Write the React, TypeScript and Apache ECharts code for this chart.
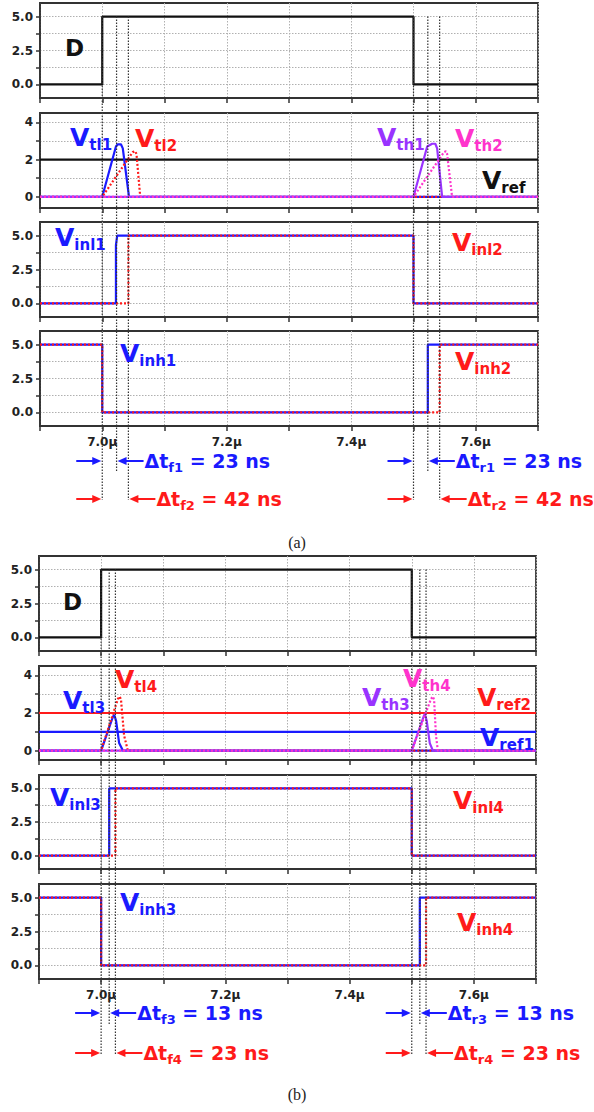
import React, { useEffect, useRef } from 'react';
import * as echarts from 'echarts';

// ---------- colours ----------
const BLUE = '#1a1aff';
const RED = '#ff1a1a';
const PURPLE = '#9933ff';
const PINK = '#ff33cc';
const BLACK = '#111111';

// ---------- axes (time in ns) ----------
const T_MIN = 6900;
const T_MAX = 7700;
const T_STEP = 100;
const T_TICK_LABELS = [7000, 7200, 7400, 7600];
const STEP_Y_TICKS = [0, 1.25, 2.5, 3.75, 5];
const STEP_Y_LABELS = [0, 2.5, 5];
const VT_Y_TICKS = [0, 1, 2, 3, 4];
const VT_Y_LABELS = [0, 2, 4];

// ---------- D (both figures) ----------
const D_T = [6900, 7000, 7000, 7500, 7500, 7700];
const D_V = [0, 0, 5, 5, 0, 0];

// ---------- figure (a) ----------
const VREF_A = 2;
const VTL1_T = [6900, 7000, 7022, 7025, 7030, 7033, 7043, 7700];
const VTL1_V = [0, 0, 2.7, 2.82, 2.82, 2.6, 0, 0];
const VTL2_T = [6900, 7000, 7049, 7053, 7055, 7061, 7700];
const VTL2_V = [0, 0, 2.4, 2.45, 2.3, 0, 0];
const VTH1_T = [6900, 7500, 7522, 7530, 7535, 7538, 7546, 7700];
const VTH1_V = [0, 0, 2.7, 2.85, 2.85, 2.6, 0, 0];
const VTH2_T = [6900, 7500, 7549, 7552, 7554, 7562, 7700];
const VTH2_V = [0, 0, 2.4, 2.45, 2.3, 0, 0];
const VINL1_T = [6900, 7022, 7022, 7024, 7500, 7500, 7700];
const VINL1_V = [0, 0, 4.3, 5, 5, 0, 0];
const VINL2_T = [6900, 7042, 7042, 7500, 7500, 7700];
const VINL2_V = [0, 0, 5, 5, 0, 0];
const VINH1_T = [6900, 7000, 7000, 7523, 7523, 7700];
const VINH1_V = [5, 5, 0, 0, 5, 5];
const VINH2_T = [6900, 7000, 7000, 7542, 7542, 7700];
const VINH2_V = [5, 5, 0, 0, 5, 5];
const DT_NAMES_A = ['f1', 'f2', 'r1', 'r2'];
const DT_VALUES_A = [23, 42, 23, 42];
const DT_START_A = [7000, 7000, 7500, 7500];

// ---------- figure (b) ----------
const VREF2_B = 2;
const VREF1_B = 1;
const VTL3_T = [6900, 7000, 7019, 7021, 7024, 7029, 7035, 7700];
const VTL3_V = [0, 0, 1.8, 1.9, 1.6, 0.4, 0, 0];
const VTL4_T = [6900, 7000, 7027, 7030, 7032, 7037, 7043, 7700];
const VTL4_V = [0, 0, 2.75, 2.88, 2.7, 0.8, 0, 0];
const VTH3_T = [6900, 7500, 7519, 7521, 7524, 7529, 7534, 7700];
const VTH3_V = [0, 0, 1.8, 1.95, 1.6, 0.4, 0, 0];
const VTH4_T = [6900, 7500, 7531, 7534, 7536, 7539, 7542, 7700];
const VTH4_V = [0, 0, 2.75, 2.88, 2.7, 0.8, 0, 0];
const VINL3_T = [6900, 7013, 7013, 7500, 7500, 7700];
const VINL3_V = [0, 0, 5, 5, 0, 0];
const VINL4_T = [6900, 7023, 7023, 7500, 7500, 7700];
const VINL4_V = [0, 0, 5, 5, 0, 0];
const VINH3_T = [6900, 7000, 7000, 7513, 7513, 7700];
const VINH3_V = [5, 5, 0, 0, 5, 5];
const VINH4_T = [6900, 7000, 7000, 7523, 7523, 7700];
const VINH4_V = [5, 5, 0, 0, 5, 5];
const DT_NAMES_B = ['f3', 'f4', 'r3', 'r4'];
const DT_VALUES_B = [13, 23, 13, 23];
const DT_START_B = [7000, 7000, 7500, 7500];

const DT_COLORS = [BLUE, RED, BLUE, RED];
const DT_ROWS = [0, 1, 0, 1];

// ---------- layout ----------
const FIG_A = { left: 40, width: 498, tops: [3, 113, 222, 331], heights: [95, 95, 95, 95], vtMin: -0.6, rowY: [461, 499], caption: '(a)', captionY: 542 };
const FIG_B = { left: 39, width: 497, tops: [556, 666, 775, 884], heights: [95, 94, 94, 95], vtMin: -0.5, rowY: [1013, 1053], caption: '(b)', captionY: 1094 };

const LABELS_A = [
  { m: 'D', s: '', x: 65, y: 48, c: BLACK },
  { m: 'V', s: 'tl1', x: 70, y: 137, c: BLUE },
  { m: 'V', s: 'tl2', x: 135, y: 138, c: RED },
  { m: 'V', s: 'th1', x: 377, y: 137, c: PURPLE },
  { m: 'V', s: 'th2', x: 455, y: 138, c: PINK },
  { m: 'V', s: 'ref', x: 482, y: 180, c: BLACK },
  { m: 'V', s: 'inl1', x: 55, y: 237, c: BLUE },
  { m: 'V', s: 'inl2', x: 452, y: 242, c: RED },
  { m: 'V', s: 'inh1', x: 120, y: 353, c: BLUE },
  { m: 'V', s: 'inh2', x: 455, y: 361, c: RED },
];
const LABELS_B = [
  { m: 'D', s: '', x: 63, y: 602, c: BLACK },
  { m: 'V', s: 'tl3', x: 63, y: 700, c: BLUE },
  { m: 'V', s: 'tl4', x: 115, y: 679, c: RED },
  { m: 'V', s: 'th3', x: 362, y: 697, c: PURPLE },
  { m: 'V', s: 'th4', x: 403, y: 678, c: PINK },
  { m: 'V', s: 'ref2', x: 477, y: 697, c: RED },
  { m: 'V', s: 'ref1', x: 480, y: 737, c: BLUE },
  { m: 'V', s: 'inl3', x: 50, y: 797, c: BLUE },
  { m: 'V', s: 'inl4', x: 453, y: 800, c: RED },
  { m: 'V', s: 'inh3', x: 120, y: 902, c: BLUE },
  { m: 'V', s: 'inh4', x: 457, y: 922, c: RED },
];

const FONT = '"DejaVu Sans"';
const FRAME = '#333333';
const GRIDLINE = { color: '#b0b0b0', type: [1.5, 1.5] as any, width: 1 };

const zip = (t: number[], v: number[]) => t.map((x, i) => [x, v[i]]);

type S = { t: number[]; v: number[]; c: string; dot?: boolean };

const PANELS_A: S[][] = [
  [{ t: D_T, v: D_V, c: BLACK }],
  [
    { t: [T_MIN, T_MAX], v: [VREF_A, VREF_A], c: BLACK },
    { t: VTL1_T, v: VTL1_V, c: BLUE },
    { t: VTL2_T, v: VTL2_V, c: RED, dot: true },
    { t: VTH1_T, v: VTH1_V, c: PURPLE },
    { t: VTH2_T, v: VTH2_V, c: PINK, dot: true },
  ],
  [
    { t: VINL1_T, v: VINL1_V, c: BLUE },
    { t: VINL2_T, v: VINL2_V, c: RED, dot: true },
  ],
  [
    { t: VINH1_T, v: VINH1_V, c: BLUE },
    { t: VINH2_T, v: VINH2_V, c: RED, dot: true },
  ],
];
const PANELS_B: S[][] = [
  [{ t: D_T, v: D_V, c: BLACK }],
  [
    { t: [T_MIN, T_MAX], v: [VREF2_B, VREF2_B], c: RED },
    { t: [T_MIN, T_MAX], v: [VREF1_B, VREF1_B], c: BLUE },
    { t: VTL3_T, v: VTL3_V, c: BLUE },
    { t: VTL4_T, v: VTL4_V, c: RED, dot: true },
    { t: VTH3_T, v: VTH3_V, c: PURPLE },
    { t: VTH4_T, v: VTH4_V, c: PINK, dot: true },
  ],
  [
    { t: VINL3_T, v: VINL3_V, c: BLUE },
    { t: VINL4_T, v: VINL4_V, c: RED, dot: true },
  ],
  [
    { t: VINH3_T, v: VINH3_V, c: BLUE },
    { t: VINH4_T, v: VINH4_V, c: RED, dot: true },
  ],
];

const FIGS = [
  { L: FIG_A, P: PANELS_A, labels: LABELS_A, names: DT_NAMES_A, vals: DT_VALUES_A, starts: DT_START_A },
  { L: FIG_B, P: PANELS_B, labels: LABELS_B, names: DT_NAMES_B, vals: DT_VALUES_B, starts: DT_START_B },
];

function buildOption() {
  const grid: any[] = [];
  const xAxis: any[] = [];
  const yAxis: any[] = [];
  const series: any[] = [];
  FIGS.forEach((f, fi) => {
    for (let p = 0; p < 4; p++) {
      const g = fi * 4 + p;
      grid.push({
        left: f.L.left, top: f.L.tops[p], width: f.L.width, height: f.L.heights[p],
        show: true, borderColor: FRAME, borderWidth: 1.8, backgroundColor: '#fff',
        containLabel: false, outerBoundsMode: 'none',
      });
      xAxis.push({
        type: 'value', gridIndex: g, min: T_MIN, max: T_MAX, interval: T_STEP,
        axisLine: { show: true, onZero: false, lineStyle: { color: FRAME, width: 1.8 } },
        axisTick: { show: true, length: 5, lineStyle: { color: FRAME, width: 1.5 } },
        axisLabel: {
          show: p === 3, margin: 10, color: '#222', fontFamily: FONT, fontWeight: 'bold', fontSize: 12,
          formatter: (v: number) => (T_TICK_LABELS.includes(Math.round(v)) ? (v / 1000).toFixed(1) + 'µ' : ''),
        },
        splitLine: { show: true, lineStyle: GRIDLINE },
      });
      const isVt = p === 1;
      yAxis.push({
        type: 'value', gridIndex: g,
        min: isVt ? f.L.vtMin : -1, max: isVt ? 4.5 : 6,
        axisLine: { show: true, onZero: false, lineStyle: { color: FRAME, width: 1.8 } },
        axisTick: { show: true, length: 4, customValues: isVt ? VT_Y_TICKS : STEP_Y_TICKS, lineStyle: { color: FRAME, width: 1.5 } },
        axisLabel: {
          customValues: isVt ? VT_Y_LABELS : STEP_Y_LABELS, margin: 7, color: '#222', fontFamily: FONT, fontWeight: 'bold', fontSize: 12,
          formatter: (v: number) => (isVt ? String(v) : v.toFixed(1)),
        },
        splitLine: { show: true, lineStyle: GRIDLINE },
      });
      f.P[p].forEach((s, si) => {
        series.push({
          type: 'line', xAxisIndex: g, yAxisIndex: g, data: zip(s.t, s.v),
          symbol: 'none', silent: true, z: 2 + si,
          lineStyle: { color: s.c, width: 2.2, type: s.dot ? [2, 2] : 'solid' },
          emphasis: { disabled: true },
        });
      });
    }
  });
  return { animation: false, grid, xAxis, yAxis, series };
}

let measureCtx: CanvasRenderingContext2D | null = null;
function textW(text: string, font: string) {
  if (!measureCtx) measureCtx = document.createElement('canvas').getContext('2d');
  measureCtx!.font = font;
  return measureCtx!.measureText(text).width;
}

function txt(x: number, y: number, text: string, color: string, size: number, align = 'left', family = FONT, weight = 'bold') {
  const font = `${weight} ${size}px ${family}`;
  return {
    type: 'text', x, y, silent: true, z: 100,
    style: { text, fill: color, font, align, verticalAlign: 'middle', textAlign: align, textVerticalAlign: 'middle' },
  };
}

function arrow(xTail: number, xTip: number, y: number, color: string) {
  const dir = xTip > xTail ? 1 : -1;
  return [
    { type: 'line', silent: true, z: 100, shape: { x1: xTail, y1: y, x2: xTip - dir * 6, y2: y }, style: { stroke: color, lineWidth: 2 } },
    { type: 'polygon', silent: true, z: 100, shape: { points: [[xTip, y], [xTip - dir * 9, y - 4], [xTip - dir * 9, y + 4]] }, style: { fill: color } },
  ];
}

function buildGraphic(chart: any) {
  const els: any[] = [];
  FIGS.forEach((f, fi) => {
    const g0 = fi * 4;
    const px = (t: number) => chart.convertToPixel({ xAxisIndex: g0 }, t) as number;
    const yTop = chart.convertToPixel({ yAxisIndex: g0 }, 5) as number;
    const rowY = f.L.rowY;
    const vline = (x: number, y2: number) => ({
      type: 'line', silent: true, z: 50,
      shape: { x1: x, y1: yTop, x2: x, y2 },
      style: { stroke: '#333', lineWidth: 1.2, lineDash: [1.5, 1.5] },
    });
    const starts = Array.from(new Set(f.starts));
    starts.forEach((t0) => els.push(vline(px(t0), rowY[1] + 1)));
    f.names.forEach((nm, i) => {
      const row = DT_ROWS[i];
      const color = DT_COLORS[i];
      const y = rowY[row];
      const x0 = px(f.starts[i]);
      const x1 = px(f.starts[i] + f.vals[i]);
      els.push(vline(x1, row === 0 ? y + 11 : y + 1));
      els.push(...arrow(x0 - 26, x0 - 1, y, color));
      els.push(...arrow(x1 + 27, x1 + 1, y, color));
      const tx = x1 + 28;
      const mainFont = `bold 19px ${FONT}`;
      const subFont = `bold 13px ${FONT}`;
      const w1 = textW('Δt', mainFont);
      const w2 = textW(nm, subFont);
      els.push(txt(tx, y, 'Δt', color, 19));
      els.push(txt(tx + w1, y + 6, nm, color, 13));
      els.push(txt(tx + w1 + w2, y, ` = ${f.vals[i]} ns`, color, 19));
    });
    f.labels.forEach((l) => {
      const size = l.s ? 25 : 23;
      els.push(txt(l.x, l.y, l.m, l.c, size));
      if (l.s) {
        const w = textW(l.m, `bold ${size}px ${FONT}`);
        els.push(txt(l.x + w, l.y + 8, l.s, l.c, 15));
      }
    });
    els.push(txt(297, f.L.captionY, f.L.caption, '#222', 16, 'center', '"Liberation Serif"', 'normal'));
  });
  return els;
}

export default function App() {
  const ref = useRef<HTMLDivElement>(null);
  useEffect(() => {
    document.body.style.margin = '0';
    const chart = echarts.init(ref.current!, null, { renderer: 'svg' });
    chart.setOption(buildOption() as any);
    chart.setOption({ graphic: buildGraphic(chart) } as any);
    return () => chart.dispose();
  }, []);
  return <div ref={ref} style={{ width: 594, height: 1112, background: '#fff' }} />;
}
